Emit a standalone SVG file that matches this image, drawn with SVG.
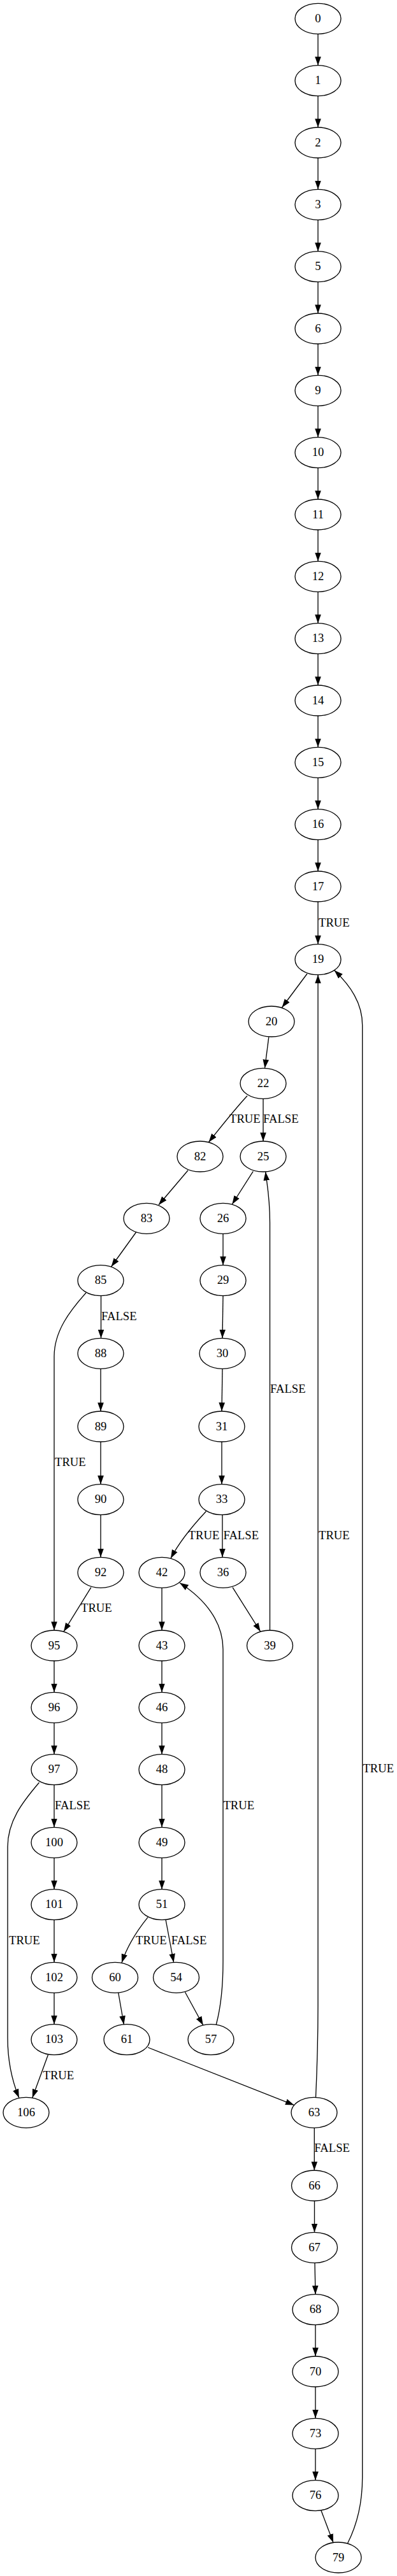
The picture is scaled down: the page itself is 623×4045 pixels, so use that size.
<svg xmlns="http://www.w3.org/2000/svg" width="623" height="4045" viewBox="0 0 623 4045">
<defs>
<style>
.node ellipse{fill:none;stroke:#000;stroke-width:1.33}
.node text{font-family:"Liberation Serif","Times New Roman",serif;font-size:18.67px;text-anchor:middle;fill:#000}
.edges path{fill:none;stroke:#000;stroke-width:1.33;marker-end:url(#ah)}
.lbl{font-family:"Liberation Serif","Times New Roman",serif;font-size:18.67px;fill:#000}
</style>
<marker id="ah" markerUnits="userSpaceOnUse" markerWidth="15" markerHeight="11" viewBox="0 -5.5 15 11" refX="13.6" refY="0" orient="auto"><path d="M0,-4.8 L13.6,0 L0,4.8 Z" fill="#000"/></marker>
</defs>
<rect width="623" height="4045" fill="#fff"/>
<g class="edges">
<path d="M499,53.33 L499,102.67"/>
<path d="M499,150.67 L499,200"/>
<path d="M499,248 L499,297.33"/>
<path d="M499,345.33 L499,394.67"/>
<path d="M499,442.67 L499,492"/>
<path d="M499,540 L499,589.33"/>
<path d="M499,637.33 L499,686.67"/>
<path d="M499,734.67 L499,784"/>
<path d="M499,832 L499,881.33"/>
<path d="M499,929.33 L499,978.67"/>
<path d="M499,1026.67 L499,1076"/>
<path d="M499,1124 L499,1173.33"/>
<path d="M499,1221.33 L499,1270.67"/>
<path d="M499,1318.67 L499,1368"/>
<path d="M499,1416 L499,1482.67"/>
<path d="M482,1529 L442.5,1582"/>
<path d="M421.8,1628.3 L415.5,1677.3"/>
<path d="M388,1720.7 C370,1740 350,1765 327.5,1793.5"/>
<path d="M413,1725.33 L413,1792"/>
<path d="M295,1837.7 L249,1892"/>
<path d="M213.5,1935 L174.6,1989"/>
<path d="M397.2,1839.3 L364.3,1891"/>
<path d="M350,1937.33 L350,1986.67"/>
<path d="M158.5,2034.67 L158.5,2101.33"/>
<path d="M135,2030 C110,2058 85,2090 85,2130 L85,2560"/>
<path d="M350,2034.67 L349,2101.33"/>
<path d="M349,2149.33 L348,2216"/>
<path d="M348,2264 L348,2330.67"/>
<path d="M423.5,2560 L423.5,1920 C423.5,1880 419,1860 416.7,1840"/>
<path d="M158,2149.33 L158,2216"/>
<path d="M158,2264 L158,2330.67"/>
<path d="M158,2378.67 L158,2445.33"/>
<path d="M323.4,2373.3 C305,2393 283,2418 268,2447"/>
<path d="M349,2378.67 L349,2445.33"/>
<path d="M365,2492.7 L408.7,2562"/>
<path d="M142.9,2492.7 L100,2562"/>
<path d="M254,2493.33 L254,2560"/>
<path d="M254,2608 L254,2657.33"/>
<path d="M254,2705.33 L254,2754.67"/>
<path d="M254,2802.67 L254,2869.33"/>
<path d="M254,2917.33 L254,2966.67"/>
<path d="M339.3,3179 C347,3150 350,3120 350,3080 L350,2590 C350,2545 320,2510 282,2485.5"/>
<path d="M85,2608 L85,2657.33"/>
<path d="M85,2705.33 L85,2754.67"/>
<path d="M85,2802.67 L85,2869.33"/>
<path d="M61.5,2799 C35,2830 12,2860 12,2900 L12,3200 C12,3240 20,3270 29.8,3294"/>
<path d="M85,2917.33 L85,2966.67"/>
<path d="M85,3014.67 L85,3081.33"/>
<path d="M85,3129.33 L85,3178.67"/>
<path d="M75.4,3226.7 L50.8,3294"/>
<path d="M232,3010.7 C218,3028 200,3055 191,3082"/>
<path d="M260,3014 L272.6,3081.5"/>
<path d="M185.7,3129 L194.4,3179"/>
<path d="M290.5,3128.3 L318.7,3180"/>
<path d="M232.1,3215 L461.5,3305.5"/>
<path d="M495.5,3293.5 C497.5,3250 499,3200 499,3150 L499,1530.67"/>
<path d="M545.6,3993.5 C560,3965 568.7,3930 568.7,3890 L568.7,1610 C568.7,1575 550,1548 524.6,1523.6"/>
<path d="M493.3,3341.33 L493.3,3408"/>
<path d="M493.5,3456 L493.5,3505.33"/>
<path d="M494,3553.33 L495,3602.67"/>
<path d="M495,3650.67 L495,3700"/>
<path d="M495,3748 L495,3797.33"/>
<path d="M495,3845.33 L495,3894.67"/>
<path d="M504,3942.3 L523,3992.6"/>
<text class="lbl" x="500" y="1455">TRUE</text>
<text class="lbl" x="360" y="1763.3">TRUE</text>
<text class="lbl" x="413" y="1763.3">FALSE</text>
<text class="lbl" x="159" y="2073.3">FALSE</text>
<text class="lbl" x="424" y="2186.7">FALSE</text>
<text class="lbl" x="86" y="2302">TRUE</text>
<text class="lbl" x="295.6" y="2417">TRUE</text>
<text class="lbl" x="350.4" y="2417">FALSE</text>
<text class="lbl" x="500" y="2417">TRUE</text>
<text class="lbl" x="127" y="2531">TRUE</text>
<text class="lbl" x="569.4" y="2783">TRUE</text>
<text class="lbl" x="86" y="2841">FALSE</text>
<text class="lbl" x="350.4" y="2841">TRUE</text>
<text class="lbl" x="14" y="3053">TRUE</text>
<text class="lbl" x="213" y="3053">TRUE</text>
<text class="lbl" x="268.7" y="3053">FALSE</text>
<text class="lbl" x="67.5" y="3265">TRUE</text>
<text class="lbl" x="493.3" y="3379">FALSE</text>
</g>
<g id="node0" class="node"><ellipse cx="499" cy="29.33" rx="36" ry="24"/><text x="499" y="34.93">0</text></g>
<g id="node1" class="node"><ellipse cx="499" cy="126.67" rx="36" ry="24"/><text x="499" y="132.27">1</text></g>
<g id="node2" class="node"><ellipse cx="499" cy="224" rx="36" ry="24"/><text x="499" y="229.6">2</text></g>
<g id="node3" class="node"><ellipse cx="499" cy="321.33" rx="36" ry="24"/><text x="499" y="326.93">3</text></g>
<g id="node5" class="node"><ellipse cx="499" cy="418.67" rx="36" ry="24"/><text x="499" y="424.27">5</text></g>
<g id="node6" class="node"><ellipse cx="499" cy="516" rx="36" ry="24"/><text x="499" y="521.6">6</text></g>
<g id="node9" class="node"><ellipse cx="499" cy="613.33" rx="36" ry="24"/><text x="499" y="618.93">9</text></g>
<g id="node10" class="node"><ellipse cx="499" cy="710.67" rx="36" ry="24"/><text x="499" y="716.27">10</text></g>
<g id="node11" class="node"><ellipse cx="499" cy="808" rx="36" ry="24"/><text x="499" y="813.6">11</text></g>
<g id="node12" class="node"><ellipse cx="499" cy="905.33" rx="36" ry="24"/><text x="499" y="910.93">12</text></g>
<g id="node13" class="node"><ellipse cx="499" cy="1002.67" rx="36" ry="24"/><text x="499" y="1008.27">13</text></g>
<g id="node14" class="node"><ellipse cx="499" cy="1100" rx="36" ry="24"/><text x="499" y="1105.6">14</text></g>
<g id="node15" class="node"><ellipse cx="499" cy="1197.33" rx="36" ry="24"/><text x="499" y="1202.93">15</text></g>
<g id="node16" class="node"><ellipse cx="499" cy="1294.67" rx="36" ry="24"/><text x="499" y="1300.27">16</text></g>
<g id="node17" class="node"><ellipse cx="499" cy="1392" rx="36" ry="24"/><text x="499" y="1397.6">17</text></g>
<g id="node19" class="node"><ellipse cx="499" cy="1506.67" rx="36" ry="24"/><text x="499" y="1512.27">19</text></g>
<g id="node20" class="node"><ellipse cx="426" cy="1604" rx="36" ry="24"/><text x="426" y="1609.6">20</text></g>
<g id="node22" class="node"><ellipse cx="413" cy="1701.33" rx="36" ry="24"/><text x="413" y="1706.93">22</text></g>
<g id="node82" class="node"><ellipse cx="314" cy="1816" rx="36" ry="24"/><text x="314" y="1821.6">82</text></g>
<g id="node25" class="node"><ellipse cx="413" cy="1816" rx="36" ry="24"/><text x="413" y="1821.6">25</text></g>
<g id="node83" class="node"><ellipse cx="230" cy="1913.33" rx="36" ry="24"/><text x="230" y="1918.93">83</text></g>
<g id="node26" class="node"><ellipse cx="350" cy="1913.33" rx="36" ry="24"/><text x="350" y="1918.93">26</text></g>
<g id="node85" class="node"><ellipse cx="158" cy="2010.67" rx="36" ry="24"/><text x="158" y="2016.27">85</text></g>
<g id="node29" class="node"><ellipse cx="350" cy="2010.67" rx="36" ry="24"/><text x="350" y="2016.27">29</text></g>
<g id="node88" class="node"><ellipse cx="158" cy="2125.33" rx="36" ry="24"/><text x="158" y="2130.93">88</text></g>
<g id="node30" class="node"><ellipse cx="349" cy="2125.33" rx="36" ry="24"/><text x="349" y="2130.93">30</text></g>
<g id="node89" class="node"><ellipse cx="158" cy="2240" rx="36" ry="24"/><text x="158" y="2245.6">89</text></g>
<g id="node31" class="node"><ellipse cx="348" cy="2240" rx="36" ry="24"/><text x="348" y="2245.6">31</text></g>
<g id="node90" class="node"><ellipse cx="158" cy="2354.67" rx="36" ry="24"/><text x="158" y="2360.27">90</text></g>
<g id="node33" class="node"><ellipse cx="348" cy="2354.67" rx="36" ry="24"/><text x="348" y="2360.27">33</text></g>
<g id="node92" class="node"><ellipse cx="158" cy="2469.33" rx="36" ry="24"/><text x="158" y="2474.93">92</text></g>
<g id="node42" class="node"><ellipse cx="254" cy="2469.33" rx="36" ry="24"/><text x="254" y="2474.93">42</text></g>
<g id="node36" class="node"><ellipse cx="350" cy="2469.33" rx="36" ry="24"/><text x="350" y="2474.93">36</text></g>
<g id="node95" class="node"><ellipse cx="85" cy="2584" rx="36" ry="24"/><text x="85" y="2589.6">95</text></g>
<g id="node43" class="node"><ellipse cx="254" cy="2584" rx="36" ry="24"/><text x="254" y="2589.6">43</text></g>
<g id="node39" class="node"><ellipse cx="423.5" cy="2584" rx="36" ry="24"/><text x="423.5" y="2589.6">39</text></g>
<g id="node96" class="node"><ellipse cx="85" cy="2681.33" rx="36" ry="24"/><text x="85" y="2686.93">96</text></g>
<g id="node46" class="node"><ellipse cx="254" cy="2681.33" rx="36" ry="24"/><text x="254" y="2686.93">46</text></g>
<g id="node97" class="node"><ellipse cx="85" cy="2778.67" rx="36" ry="24"/><text x="85" y="2784.27">97</text></g>
<g id="node48" class="node"><ellipse cx="254" cy="2778.67" rx="36" ry="24"/><text x="254" y="2784.27">48</text></g>
<g id="node100" class="node"><ellipse cx="85" cy="2893.33" rx="36" ry="24"/><text x="85" y="2898.93">100</text></g>
<g id="node49" class="node"><ellipse cx="254" cy="2893.33" rx="36" ry="24"/><text x="254" y="2898.93">49</text></g>
<g id="node101" class="node"><ellipse cx="85" cy="2990.67" rx="36" ry="24"/><text x="85" y="2996.27">101</text></g>
<g id="node51" class="node"><ellipse cx="254" cy="2990.67" rx="36" ry="24"/><text x="254" y="2996.27">51</text></g>
<g id="node102" class="node"><ellipse cx="85" cy="3105.33" rx="36" ry="24"/><text x="85" y="3110.93">102</text></g>
<g id="node60" class="node"><ellipse cx="180.5" cy="3105.33" rx="36" ry="24"/><text x="180.5" y="3110.93">60</text></g>
<g id="node54" class="node"><ellipse cx="276.5" cy="3105.33" rx="36" ry="24"/><text x="276.5" y="3110.93">54</text></g>
<g id="node103" class="node"><ellipse cx="85" cy="3202.67" rx="36" ry="24"/><text x="85" y="3208.27">103</text></g>
<g id="node61" class="node"><ellipse cx="199" cy="3202.67" rx="36" ry="24"/><text x="199" y="3208.27">61</text></g>
<g id="node57" class="node"><ellipse cx="331" cy="3202.67" rx="36" ry="24"/><text x="331" y="3208.27">57</text></g>
<g id="node106" class="node"><ellipse cx="41" cy="3317.33" rx="36" ry="24"/><text x="41" y="3322.93">106</text></g>
<g id="node63" class="node"><ellipse cx="493" cy="3317.33" rx="36" ry="24"/><text x="493" y="3322.93">63</text></g>
<g id="node66" class="node"><ellipse cx="493.5" cy="3432" rx="36" ry="24"/><text x="493.5" y="3437.6">66</text></g>
<g id="node67" class="node"><ellipse cx="493.5" cy="3529.33" rx="36" ry="24"/><text x="493.5" y="3534.93">67</text></g>
<g id="node68" class="node"><ellipse cx="495" cy="3626.67" rx="36" ry="24"/><text x="495" y="3632.27">68</text></g>
<g id="node70" class="node"><ellipse cx="495" cy="3724" rx="36" ry="24"/><text x="495" y="3729.6">70</text></g>
<g id="node73" class="node"><ellipse cx="495" cy="3821.33" rx="36" ry="24"/><text x="495" y="3826.93">73</text></g>
<g id="node76" class="node"><ellipse cx="495" cy="3918.67" rx="36" ry="24"/><text x="495" y="3924.27">76</text></g>
<g id="node79" class="node"><ellipse cx="531" cy="4016" rx="36" ry="24"/><text x="531" y="4021.6">79</text></g>
</svg>
